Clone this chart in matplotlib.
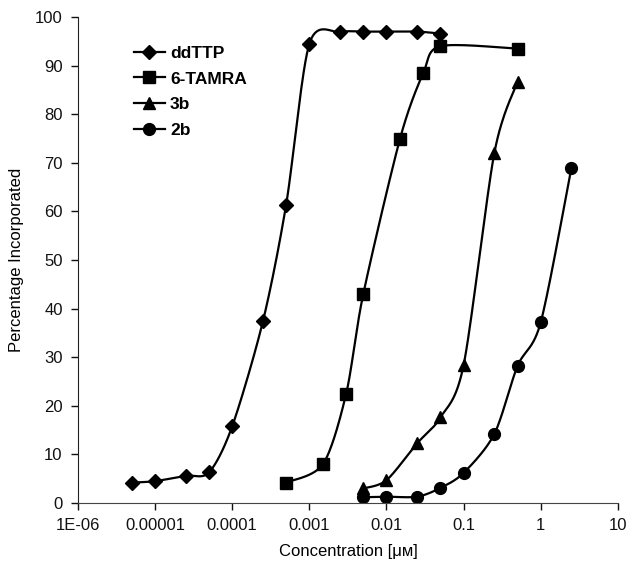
import numpy as np
import matplotlib
matplotlib.use("Agg")
import matplotlib.pyplot as plt
from matplotlib.lines import Line2D

plt.rcParams['font.family'] = ['Liberation Sans', 'DejaVu Sans']

# concentrations (uM) and percentage incorporated
ddttp_x = [5e-6, 1e-5, 2.5e-5, 5e-5, 1e-4, 2.5e-4, 5e-4, 1e-3, 2.5e-3, 5e-3, 1e-2, 2.5e-2, 5e-2]
ddttp_y = [4.2, 4.5, 5.6, 6.3, 15.8, 37.4, 61.4, 94.5, 96.9, 97.0, 97.0, 97.0, 96.6]

tamra_x = [5e-4, 1.5e-3, 3e-3, 5e-3, 1.5e-2, 3e-2, 5e-2, 5e-1]
tamra_y = [4.2, 8.0, 22.5, 43.0, 75.0, 88.5, 94.0, 93.5]

b3_x = [5e-3, 1e-2, 2.5e-2, 5e-2, 1e-1, 2.5e-1, 5e-1]
b3_y = [3.0, 4.7, 12.3, 17.6, 28.4, 72.0, 86.7]

b2_x = [5e-3, 1e-2, 2.5e-2, 5e-2, 1e-1, 2.5e-1, 5e-1, 1.0, 2.5]
b2_y = [1.2, 1.3, 1.3, 3.1, 6.2, 14.2, 28.2, 37.2, 69.0]

names = ['ddTTP', '6-TAMRA', '3b', '2b']
series = [(ddttp_x, ddttp_y), (tamra_x, tamra_y), (b3_x, b3_y), (b2_x, b2_y)]
markers = ['D', 's', '^', 'o']
msizes = [7, 9, 9, 8.5]

xticks = [1e-6, 1e-5, 1e-4, 1e-3, 1e-2, 1e-1, 1, 10]
xlabels = ['1E-06', '0.00001', '0.0001', '0.001', '0.01', '0.1', '1', '10']
yticks = list(range(0, 101, 10))


def smooth(xs, ys, n=30, k=7.0):
    # Excel-like smoothed line: cubic bezier through the points in (log x, y)
    lx = np.log10(xs)
    P = np.column_stack([lx * 77.4, np.array(ys) * 4.86])
    P = np.vstack([P[0], P, P[-1]])
    out = []
    t = np.linspace(0, 1, n)[:, None]
    for i in range(1, len(P) - 2):
        p0, p1, p2, p3 = P[i - 1], P[i], P[i + 1], P[i + 2]
        c1 = p1 + (p2 - p0) / k
        c2 = p2 - (p3 - p1) / k
        seg = ((1 - t) ** 3) * p1 + 3 * ((1 - t) ** 2) * t * c1 + 3 * (1 - t) * t ** 2 * c2 + t ** 3 * p2
        out.append(seg)
    seg = np.vstack(out)
    return 10 ** (seg[:, 0] / 77.4), seg[:, 1] / 4.86


fig = plt.figure(figsize=(6.31, 5.68), dpi=100)
ax = fig.add_axes([0.1236, 0.1144, 0.8556, 0.8556])

handles = []
for (xs, ys), nm, mk, ms in zip(series, names, markers, msizes):
    sx, sy = smooth(xs, ys)
    ax.plot(sx, sy, color='black', lw=1.6, solid_capstyle='round')
    ax.plot(xs, ys, linestyle='none', marker=mk, ms=ms, color='black')
    handles.append(Line2D([], [], color='black', lw=1.6, marker=mk, ms=ms))

ax.set_xscale('log')
ax.set_xlim(1e-6, 10)
ax.set_ylim(0, 100)
ax.set_xticks(xticks)
ax.set_xticklabels(xlabels)
ax.xaxis.set_minor_locator(matplotlib.ticker.NullLocator())
ax.set_yticks(yticks)

for s in ['top', 'right']:
    ax.spines[s].set_visible(False)
ax.spines['left'].set_color('#222222')
ax.spines['bottom'].set_color('#444444')
ax.tick_params(axis='both', direction='out', length=5, width=1, labelsize=12, colors='#111111', pad=6)

ax.set_xlabel('Concentration [μᴍ]', fontsize=12, labelpad=8)
ax.set_ylabel('Percentage Incorporated', fontsize=12, labelpad=8)

leg = ax.legend(handles, names, loc='upper left', bbox_to_anchor=(0.09, 0.955), frameon=False,
                prop={'weight': 'bold', 'size': 12.5}, handlelength=1.8, handletextpad=0.3,
                labelspacing=0.6, borderaxespad=0)

fig.savefig('out.png', dpi=100)
